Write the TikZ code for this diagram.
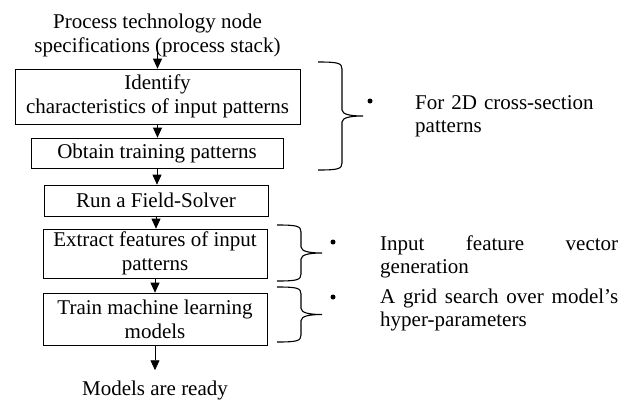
\documentclass[tikz,border=0pt]{standalone}
\usepackage{fontspec}
\setmainfont{Liberation Serif}
\usetikzlibrary{arrows.meta}

% curly bracket opening to the right: x of the ends, top y, bottom y
\newcommand{\bracepath}[3]{%
    \draw[brc] (#1,#2) .. controls +(20,0) and +(0,-6) .. (#1+24,#2+7)
        -- (#1+24,{(#2+#3)/2-6})
        .. controls +(0,5) and +(-10,0) .. (#1+45,{(#2+#3)/2})
        .. controls +(-10,0) and +(0,-5) .. (#1+24,{(#2+#3)/2+6})
        -- (#1+24,#3-7)
        .. controls +(0,6) and +(20,0) .. (#1,#3);}

\begin{document}
\begin{tikzpicture}[x=1pt,y=-1pt,
        box/.style={draw,line width=0.7pt,align=center,inner sep=0pt,minimum width=224pt,font=\fontsize{21}{24}\selectfont},
        txt/.style={inner sep=0pt,font=\fontsize{21}{24}\selectfont},
        note/.style={anchor=north west,inner sep=0pt,align=left,font=\fontsize{21}{23}\selectfont},
        arr/.style={line width=0.8pt,-{Triangle[width=9pt,length=10pt]}},
        brc/.style={line width=1.1pt},
        dot/.style={circle,fill,inner sep=0pt,minimum size=5pt}]
    \useasboundingbox (0,0) rectangle (633,402);

    \node[txt,align=center] (title) at (157.5,35) {Process technology node\\specifications (process stack)};
    \node[box,minimum width=285pt,minimum height=55pt] (ident) at (157.5,96.5) {Identify\\characteristics of input patterns};
    \node[box,minimum width=252pt,minimum height=30pt] (obtain) at (157,153) {Obtain training patterns};
    \node[box,minimum height=31pt] (solver) at (156,200.5) {Run a Field-Solver};
    \node[box,minimum height=49pt] (extract) at (155,253.5) {Extract features of input\\patterns};
    \node[box,minimum height=52pt] (train) at (155,319) {Train machine learning\\models};
    \node[txt] (ready) at (155,390) {Models are ready};

    \draw[line width=1.5pt] (solver.north east) -- (solver.south east) -- (solver.south west);
    \draw[line width=1.5pt] (extract.north east) -- (extract.south east);

    \draw[arr] ([yshift=5pt]title.south) -- (ident.north);
    \draw[arr] (ident.south) -- (ident.south |- obtain.north);
    \draw[arr] (obtain.south) -- (obtain.south |- solver.north);
    \draw[arr] (solver.south) -- (solver.south |- extract.north);
    \draw[arr] (extract.south) -- (train.north);
    \draw[arr] (train.south) -- ([yshift=10pt]ready.north);

    \bracepath{318}{62}{170}
    \bracepath{277}{225}{281}
    \bracepath{277}{287}{342}

    \node[dot] (d1) at (370,101) {};
    \node[dot] (d2) at (333,242) {};
    \node[dot] (d3) at (333,297) {};
    \node[note,text width=220pt] (n1) at (415,95) {For 2D cross-section\\patterns};
    \node[note,text width=238pt] (n2) at (380,236) {Input\hfill feature\hfill vector\\generation};
    \node[note,text width=238pt] (n3) at (380,288.5) {A\hfill grid\hfill search\hfill over\hfill model's\\hyper-parameters};
\end{tikzpicture}
\end{document}
